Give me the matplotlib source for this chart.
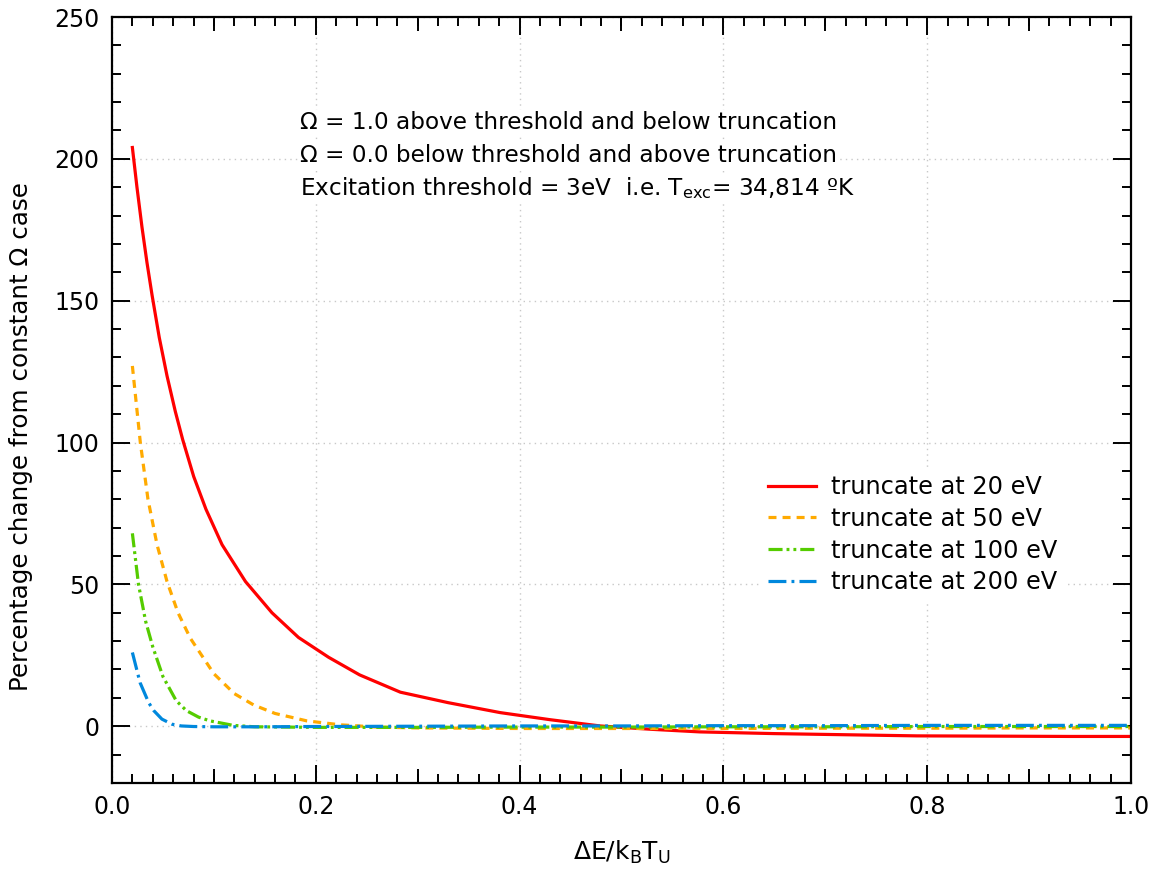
import matplotlib
matplotlib.use("Agg")
import matplotlib.pyplot as plt
from matplotlib.ticker import MultipleLocator, FormatStrFormatter

plt.rcParams['font.family'] = ['DejaVu Sans']
plt.rcParams['mathtext.default'] = 'regular'

# truncate at 20 eV
x20 = [0.02, 0.0245, 0.0294, 0.0343, 0.0393, 0.0464, 0.054, 0.0621, 0.0694, 0.0802, 0.0922,
       0.108, 0.131, 0.157, 0.183, 0.2126, 0.243, 0.283, 0.33, 0.381, 0.43, 0.479, 0.53,
       0.577, 0.65, 0.72, 0.79, 0.87, 0.94, 1.0]
y20 = [204, 190, 176, 163.5, 152, 137, 123.5, 111, 101, 88, 76.5,
       64, 51, 40, 31.3, 24.3, 18.1, 12, 8.3, 4.8, 2.3, 0.1, -1.1,
       -2.0, -2.6, -3.0, -3.4, -3.5, -3.6, -3.6]

# truncate at 50 eV
x50 = [0.02, 0.0278, 0.0353, 0.0442, 0.054, 0.0648, 0.0769, 0.1, 0.12, 0.139, 0.16, 0.191,
       0.224, 0.26, 0.3, 0.4, 0.5, 0.6, 0.7, 0.8, 0.9, 1.0]
y50 = [127, 100, 80, 64, 51, 40, 31, 18.5, 11.5, 7.5, 4.5, 1.9,
       0.5, -0.3, -0.6, -0.8, -0.8, -0.8, -0.7, -0.7, -0.6, -0.6]

# truncate at 100 eV
x100 = [0.02, 0.026, 0.033, 0.04, 0.05, 0.063, 0.073, 0.085, 0.096, 0.119, 0.14, 0.17, 0.2,
        0.3, 0.4, 0.5, 0.6, 0.7, 0.8, 0.9, 1.0]
y100 = [68, 50, 37, 28, 17.5, 9, 5.5, 3.2, 1.9, 0.3, -0.2, -0.3, -0.4,
        -0.4, -0.3, -0.3, -0.2, -0.2, -0.1, -0.1, -0.1]

# truncate at 200 eV
x200 = [0.02, 0.0275, 0.036, 0.041, 0.049, 0.059, 0.068, 0.08, 0.1, 0.15, 0.2,
        0.3, 0.4, 0.5, 0.6, 0.7, 0.8, 0.9, 1.0]
y200 = [26, 15.4, 8.3, 5.5, 2.5, 0.7, 0.1, -0.1, -0.2, -0.2, -0.1,
        0.0, 0.1, 0.1, 0.2, 0.2, 0.3, 0.3, 0.3]

labels = ['truncate at 20 eV', 'truncate at 50 eV', 'truncate at 100 eV', 'truncate at 200 eV']

fs = 17

fig = plt.figure(figsize=(11.57, 8.72), dpi=100)
ax = fig.add_axes([0.0968, 0.1021, 0.8807, 0.8784])

ax.plot(x20, y20, color='#ff0000', lw=2.3, label=labels[0])
ax.plot(x50, y50, color='#ffaa00', lw=2.3, dashes=(2.5, 1.9), label=labels[1])
ax.plot(x100, y100, color='#55cc00', lw=2.3, dashes=(4.4, 1.25, 0.9, 1.25, 0.9, 1.25), label=labels[2])
ax.plot(x200, y200, color='#0088dd', lw=2.3, dashes=(5.6, 1.6, 0.9, 1.6), label=labels[3])

ax.set_xlim(0, 1.0)
ax.set_ylim(-20, 250)

ax.xaxis.set_major_locator(MultipleLocator(0.2))
ax.xaxis.set_minor_locator(MultipleLocator(0.02))
ax.xaxis.set_major_formatter(FormatStrFormatter('%.1f'))
ax.yaxis.set_major_locator(MultipleLocator(50))
ax.yaxis.set_minor_locator(MultipleLocator(10))

ax.tick_params(which='both', direction='in', top=True, right=True, width=1.4, colors='black')
ax.tick_params(which='major', length=13, labelsize=fs, pad=9)
ax.tick_params(which='minor', length=6.5)

# medium ticks at the odd tenths
for side in ['bottom', 'top']:
    sec = ax.secondary_xaxis(side)
    sec.set_xticks([0.1, 0.3, 0.5, 0.7, 0.9])
    sec.tick_params(direction='in', length=10, width=1.4, labelbottom=False, labeltop=False)
    sec.spines[side].set_visible(False)

for s in ax.spines.values():
    s.set_linewidth(1.6)

ax.grid(True, which='major', linestyle=(0, (1, 3)), color='#c8c8c8', lw=1)

ax.set_xlabel(r'$\Delta$E/k$_B$T$_U$', fontsize=18, labelpad=14)
ax.set_ylabel('Percentage change from constant Ω case', fontsize=17.7)
ax.yaxis.set_label_coords(-0.0775, 0.4517)

box = dict(facecolor='white', edgecolor='none', pad=1)
tfs = 16.7
ax.text(0.1845, 0.8538, 'Ω = 1.0 above threshold and below truncation', transform=ax.transAxes,
        fontsize=tfs, va='baseline', bbox=box)
ax.text(0.1845, 0.8107, 'Ω = 0.0 below threshold and above truncation', transform=ax.transAxes,
        fontsize=tfs, va='baseline', bbox=box)
ax.text(0.1845, 0.7676, r'Excitation threshold = 3eV  i.e. T$_{exc}$= 34,814 ºK', transform=ax.transAxes,
        fontsize=tfs, va='baseline', bbox=box)

leg = ax.legend(loc='upper left', bbox_to_anchor=(0.625, 0.427), fontsize=17.3, frameon=True,
                fancybox=False, edgecolor='none', facecolor='white', framealpha=1,
                handlelength=2.0, handletextpad=0.6, labelspacing=0.32, borderpad=0.3)

fig.savefig('out.png', dpi=100)
